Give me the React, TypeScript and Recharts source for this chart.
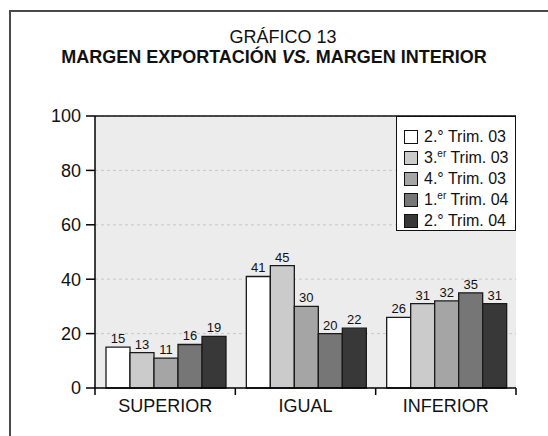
import React from 'react';
import {
  BarChart, Bar, XAxis, YAxis, CartesianGrid, Legend, LabelList, ReferenceLine,
} from 'recharts';

const categories = ['SUPERIOR', 'IGUAL', 'INFERIOR'];
const trim2_03 = [15, 41, 26];
const trim3_03 = [13, 45, 31];
const trim4_03 = [11, 30, 32];
const trim1_04 = [16, 20, 35];
const trim2_04 = [19, 22, 31];
const yTicks = [0, 20, 40, 60, 80, 100];

const series = [
  { key: 't2_03', num: '2.', sup: '°', color: '#ffffff', values: trim2_03 },
  { key: 't3_03', num: '3.', sup: 'er', color: '#cbcbcb', values: trim3_03 },
  { key: 't4_03', num: '4.', sup: '°', color: '#a5a5a5', values: trim4_03 },
  { key: 't1_04', num: '1.', sup: 'er', color: '#767676', values: trim1_04 },
  { key: 't2_04', num: '2.', sup: '°', color: '#383838', values: trim2_04 },
];
const years = ['03', '03', '03', '04', '04'];

const data = categories.map((name, i) => {
  const row: Record<string, string | number> = { name };
  series.forEach(s => { row[s.key] = s.values[i]; });
  return row;
});

const FONT = '"Liberation Sans", Arial, Helvetica, sans-serif';

// category ticks sit on band edges, label in the middle
// eslint-disable-next-line @typescript-eslint/no-explicit-any
function CatTick({ x, y, payload, index }: any) {
  const half = payload?.offset || 70;
  return (
    <g>
      <line x1={x - half} x2={x - half} y1={y} y2={y + 7} stroke="#000" strokeWidth={1.5} />
      {index === categories.length - 1 && (
        <line x1={x + half} x2={x + half} y1={y} y2={y + 7} stroke="#000" strokeWidth={1.5} />
      )}
      <text x={x} y={y + 24} textAnchor="middle" fontSize={18} fill="#111" fontFamily={FONT}>
        {payload.value}
      </text>
    </g>
  );
}

function LegendBox() {
  return (
    <div style={{
      width: 120, height: 115, boxSizing: 'border-box', background: '#fff',
      border: '1.2px solid #111', padding: '10px 0 0 7px', fontFamily: FONT,
    }}>
      {series.map((s, i) => (
        <div key={s.key} style={{ display: 'flex', alignItems: 'center', height: 20.8 }}>
          <span style={{
            width: 12, height: 12, background: s.color, border: '1.2px solid #111',
            display: 'inline-block', marginRight: 6,
          }} />
          <span style={{ fontSize: 16, color: '#111', lineHeight: '16px', whiteSpace: 'nowrap' }}>
            {s.num}
            {s.sup === '°'
              ? <span>°</span>
              : <sup style={{ fontSize: 10, verticalAlign: 6, lineHeight: 0 }}>{s.sup}</sup>}
            {' '}Trim. {years[i]}
          </span>
        </div>
      ))}
    </div>
  );
}

export default function App() {
  return (
    <div style={{
      position: 'absolute', left: 0, top: 0, width: 548, height: 436,
      overflow: 'hidden', background: '#fff', fontFamily: FONT,
    }}>
      <div style={{
        position: 'absolute', left: 9, top: 10, width: 600, height: 500,
        border: '2px solid #4a4a4a',
      }} />
      <div style={{
        position: 'absolute', left: 183, width: 200, top: 28, textAlign: 'center',
        fontSize: 18, lineHeight: '18px', color: '#111',
      }}>
        GRÁFICO 13
      </div>
      <div style={{
        position: 'absolute', left: 0, width: 548, top: 48, textAlign: 'center',
        fontSize: 18, lineHeight: '18px', fontWeight: 700, color: '#111',
      }}>
        MARGEN EXPORTACIÓN <i>VS.</i> MARGEN INTERIOR
      </div>
      <div style={{ position: 'absolute', left: 0, top: 0 }}>
        <BarChart
          width={548}
          height={436}
          data={data}
          margin={{ top: 116, right: 32, left: 35, bottom: 18 }}
          barCategoryGap={11}
          barGap={0}
        >
          <CartesianGrid
            vertical={false}
            fill="#ececec"
            stroke="#c8c8c8"
            strokeDasharray="3 3"
          />
          <XAxis
            dataKey="name"
            height={30}
            interval={0}
            tickLine={false}
            tickSize={0}
            tickMargin={0}
            axisLine={{ stroke: '#000', strokeWidth: 1.5 }}
            tick={<CatTick />}
          />
          <YAxis
            width={60}
            domain={[0, 100]}
            ticks={yTicks}
            tickSize={9}
            tickMargin={5}
            axisLine={{ stroke: '#000', strokeWidth: 1.5 }}
            tickLine={{ stroke: '#000', strokeWidth: 1.5 }}
            tick={{ fontSize: 18, fill: '#111', fontFamily: FONT }}
          />
          <YAxis
            yAxisId="r"
            orientation="right"
            width={0}
            domain={[0, 100]}
            tick={false}
            tickLine={false}
            axisLine={{ stroke: '#333', strokeWidth: 1.2 }}
          />
          <ReferenceLine y={100} stroke="#111" strokeWidth={1.5} />
          <Legend
            content={<LegendBox />}
            layout="vertical"
            align="center"
            verticalAlign="middle"
            wrapperStyle={{ position: 'absolute', left: 396, top: 116, width: 120, height: 115 }}
          />
          {series.map(s => (
            <Bar
              key={s.key}
              dataKey={s.key}
              fill={s.color}
              stroke="#1a1a1a"
              strokeWidth={1.3}
              isAnimationActive={false}
            >
              <LabelList
                dataKey={s.key}
                position="top"
                offset={4}
                fill="#111"
                style={{ fontSize: 13, fill: '#111', fontFamily: FONT }}
              />
            </Bar>
          ))}
        </BarChart>
      </div>
    </div>
  );
}
